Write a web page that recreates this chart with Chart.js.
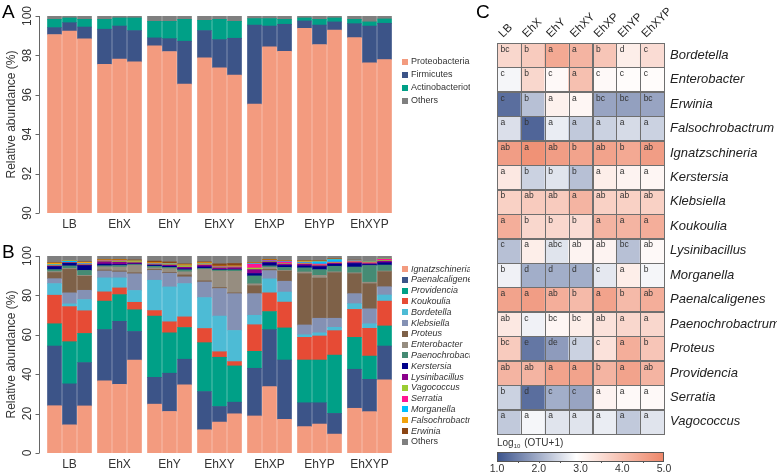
<!DOCTYPE html>
<html>
<head>
<meta charset="utf-8">
<script src="https://cdn.jsdelivr.net/npm/chart.js@4.4.1/dist/chart.umd.min.js"></script>
<style>
  body { margin: 0; background: #fff; width: 777px; height: 474px; position: relative; overflow: hidden; }
  canvas { position: absolute; }
  #phylumChart { left: 0; top: 0; }
  #genusChart { left: 0; top: 240px; }
  #heatChart { left: 470px; top: 0; }
</style>
</head>
<body>
<canvas id="phylumChart" width="470" height="240"></canvas>
<canvas id="genusChart" width="470" height="234"></canvas>
<canvas id="heatChart" width="307" height="474"></canvas>
<script>
const FONT = "'Liberation Sans', Arial, sans-serif";

// Treatment groups, three replicates each
const groups = ['LB', 'EhX', 'EhY', 'EhXY', 'EhXP', 'EhYP', 'EhXYP'];
const reps = 3;

// Panel A - phylum level relative abundance (%)
const phyla = ['Proteobacteria', 'Firmicutes', 'Actinobacteriota', 'Others'];
const proteobacteria = [99.06, 99.24, 98.84, 97.55, 97.81, 97.67, 98.48, 98.20, 96.54, 97.88, 97.37, 97.00, 95.53, 98.43, 98.21, 99.38, 98.55, 99.29, 98.90, 97.62, 97.79];
const firmicutes = [0.35, 0.42, 0.60, 1.78, 1.68, 1.59, 0.41, 0.65, 2.18, 1.38, 1.43, 1.87, 4.01, 1.06, 1.37, 0.37, 0.99, 0.41, 0.71, 1.87, 1.84];
const actinobacteriota = [0.42, 0.24, 0.39, 0.50, 0.41, 0.64, 0.84, 0.88, 1.11, 0.52, 1.03, 0.86, 0.33, 0.38, 0.25, 0.15, 0.29, 0.20, 0.22, 0.21, 0.22];
const phylumOthers = [0.17, 0.10, 0.17, 0.17, 0.10, 0.10, 0.27, 0.27, 0.17, 0.22, 0.17, 0.27, 0.13, 0.13, 0.17, 0.10, 0.17, 0.10, 0.17, 0.30, 0.15];
const phylumColors = ['#F39B7F', '#3C5488', '#00A087', '#7F7F7F'];
const phylumTicks = [90, 92, 94, 96, 98, 100];

// Panel B - genus level relative abundance (%)
const genera = ['Ignatzschineria', 'Paenalcaligenes', 'Providencia', 'Koukoulia', 'Bordetella', 'Klebsiella', 'Proteus', 'Enterobacter',
  'Paenochrobactrum', 'Kerstersia', 'Lysinibacillus', 'Vagococcus', 'Serratia', 'Morganella', 'Falsochrobactrum', 'Erwinia', 'Others'];
const ignatzschineria = [24.0, 14.3, 23.9, 36.6, 34.9, 47.2, 24.8, 21.1, 34.6, 11.8, 15.7, 19.9, 18.8, 33.7, 17.1, 13.4, 14.7, 9.6, 22.7, 21.0, 37.1];
const paenalcaligenes = [30.3, 20.8, 22.0, 26.1, 32.0, 14.5, 13.6, 19.4, 13.0, 19.4, 7.9, 5.9, 24.2, 28.9, 30.1, 12.1, 10.8, 10.5, 19.8, 16.4, 17.2];
const providencia = [11.3, 21.4, 14.8, 14.4, 13.5, 11.0, 31.1, 20.5, 16.1, 24.8, 25.0, 18.4, 8.6, 9.2, 16.3, 21.7, 21.7, 29.6, 16.2, 11.8, 10.2];
const koukoulia = [14.5, 17.8, 11.5, 4.7, 3.4, 3.8, 2.8, 5.6, 5.4, 7.2, 2.8, 2.2, 13.5, 9.5, 13.1, 11.5, 12.2, 12.4, 14.2, 14.1, 12.6];
const bordetella = [5.9, 1.4, 5.7, 7.1, 5.1, 6.0, 15.4, 17.7, 16.9, 15.7, 18.1, 15.8, 4.8, 7.1, 5.1, 1.3, 1.6, 1.7, 2.9, 2.3, 3.1];
const klebsiella = [2.5, 5.6, 4.7, 3.5, 3.0, 8.5, 5.0, 7.0, 3.4, 7.9, 14.0, 18.7, 11.0, 4.2, 5.5, 5.0, 7.4, 4.6, 5.1, 7.6, 4.2];
const proteus = [3.1, 12.0, 7.1, 0.5, 0.5, 0.5, 0.5, 0.4, 1.0, 0.6, 0.5, 0.4, 4.0, 0.6, 5.1, 26.0, 20.4, 23.1, 10.1, 12.7, 7.6];
const enterobacter = [0.5, 0.4, 0.5, 1.6, 2.0, 3.8, 0.8, 1.9, 1.6, 5.8, 8.3, 10.9, 1.0, 1.0, 0.4, 0.9, 1.4, 0.5, 0.5, 0.8, 0.4];
const paenochrobactrum = [1.0, 1.3, 2.5, 0.6, 0.8, 0.4, 0.8, 0.6, 1.0, 0.5, 0.6, 0.8, 4.0, 0.8, 1.5, 2.1, 2.9, 2.8, 2.9, 8.5, 3.0];
const kerstersia = [1.5, 1.3, 2.4, 0.8, 0.5, 0.3, 0.5, 0.6, 0.5, 0.8, 0.3, 0.3, 1.2, 1.5, 1.0, 1.0, 1.5, 1.0, 1.8, 0.5, 1.2];
const lysinibacillus = [0.3, 0.3, 0.4, 1.2, 1.2, 0.6, 0.3, 0.6, 0.8, 0.8, 0.8, 0.8, 2.0, 0.5, 0.7, 0.8, 0.5, 0.5, 0.5, 0.5, 0.8];
const vagococcus = [0.2, 0.1, 0.2, 0.4, 0.6, 0.6, 0.3, 0.3, 0.8, 0.3, 0.4, 0.4, 0.8, 0.3, 0.3, 0.3, 0.3, 0.3, 0.3, 0.3, 0.4];
const serratia = [0.1, 0.1, 0.2, 0.2, 0.2, 0.1, 0.1, 0.1, 0.1, 0.2, 0.2, 0.2, 2.0, 0.3, 0.8, 0.3, 0.5, 0.3, 0.4, 0.3, 0.5];
const morganella = [0.4, 0.6, 0.3, 0.1, 0.1, 0.1, 0.2, 0.2, 0.1, 0.2, 0.1, 0.1, 0.3, 0.2, 0.3, 0.5, 1.2, 1.3, 0.2, 0.2, 0.2];
const falsochrobactrum = [0.8, 0.3, 0.6, 0.2, 0.2, 0.2, 0.4, 0.3, 0.3, 0.6, 0.2, 0.2, 0.3, 0.2, 0.2, 0.5, 0.3, 0.2, 0.2, 0.2, 0.2];
const erwinia = [0.2, 0.1, 0.2, 0.2, 0.3, 0.4, 0.8, 0.7, 0.4, 0.4, 1.1, 1.2, 0.2, 0.3, 0.1, 0.2, 0.2, 0.2, 0.1, 0.1, 0.1];
const genusOthers = [3.4, 2.2, 3.0, 2.2, 1.7, 2.0, 2.6, 3.0, 4.0, 3.0, 4.0, 3.8, 3.3, 1.7, 2.4, 2.4, 2.4, 1.4, 2.1, 2.7, 1.4];
const genusColors = ['#F39B7F', '#3C5488', '#00A087', '#E64B35', '#4DBBD5', '#8491B4', '#7E6148', '#968D80',
  '#458B74', '#00008B', '#8B008B', '#9ACD32', '#FF1493', '#00BFFF', '#F2A20C', '#8B4513', '#7F7F7F'];
const genusTicks = [0, 20, 40, 60, 80, 100];

// Panel C - Log10(OTU+1) heatmap with significance letters
const heatRows = ['Bordetella', 'Enterobacter', 'Erwinia', 'Falsochrobactrum', 'Ignatzschineria', 'Kerstersia', 'Klebsiella', 'Koukoulia',
  'Lysinibacillus', 'Morganella', 'Paenalcaligenes', 'Paenochrobactrum', 'Proteus', 'Providencia', 'Serratia', 'Vagococcus'];
const heatValues = [
  [3.6, 3.8, 4.4, 4.2, 3.9, 3.2, 3.5],
  [2.8, 3.6, 3.0, 4.0, 3.0, 2.95, 2.95],
  [1.3, 2.2, 3.15, 3.05, 1.9, 1.85, 1.9],
  [2.55, 1.2, 2.7, 2.3, 2.4, 2.5, 2.4],
  [4.6, 4.8, 4.6, 4.5, 4.5, 4.4, 4.6],
  [3.3, 2.4, 2.6, 2.2, 3.2, 3.1, 3.05],
  [3.7, 3.8, 3.8, 4.2, 3.7, 3.7, 3.7],
  [4.3, 3.6, 3.6, 3.5, 4.2, 4.2, 4.3],
  [2.2, 3.2, 2.6, 3.1, 3.1, 2.2, 3.0],
  [2.75, 2.0, 2.0, 2.0, 2.65, 3.2, 2.8],
  [4.5, 4.6, 4.3, 4.1, 4.5, 4.1, 4.3],
  [3.3, 2.75, 3.05, 3.2, 3.4, 3.6, 3.6],
  [3.8, 1.4, 1.8, 2.4, 3.4, 4.3, 3.9],
  [4.2, 4.2, 4.5, 4.5, 4.2, 4.5, 4.2],
  [2.4, 1.3, 2.0, 1.9, 3.1, 3.0, 3.0],
  [2.3, 2.8, 2.6, 2.6, 2.7, 2.3, 2.6]
];
const heatLetters = [
  ['bc', 'b', 'a', 'a', 'b', 'd', 'c'],
  ['c', 'b', 'c', 'a', 'c', 'c', 'c'],
  ['c', 'b', 'a', 'a', 'bc', 'bc', 'bc'],
  ['a', 'b', 'a', 'a', 'a', 'a', 'a'],
  ['ab', 'a', 'ab', 'b', 'ab', 'b', 'ab'],
  ['a', 'b', 'b', 'b', 'a', 'a', 'a'],
  ['b', 'ab', 'ab', 'a', 'ab', 'ab', 'ab'],
  ['a', 'b', 'b', 'b', 'a', 'a', 'a'],
  ['c', 'a', 'abc', 'ab', 'ab', 'bc', 'ab'],
  ['b', 'd', 'd', 'd', 'c', 'a', 'b'],
  ['a', 'a', 'ab', 'b', 'a', 'b', 'ab'],
  ['ab', 'c', 'bc', 'bc', 'ab', 'a', 'a'],
  ['bc', 'e', 'de', 'd', 'c', 'a', 'b'],
  ['ab', 'ab', 'a', 'a', 'b', 'a', 'ab'],
  ['b', 'd', 'c', 'c', 'a', 'a', 'a'],
  ['a', 'a', 'a', 'a', 'a', 'a', 'a']
];
const colorbarTicks = [1, 2, 3, 4, 5];

// colour scale: blue -> white -> salmon
const lowRgb = [59, 83, 140], midRgb = [255, 255, 255], highRgb = [238, 134, 104];
const midValue = 2.9;
function heatColor(v) {
  v = Math.max(1, Math.min(5, v));
  const lowSide = v < midValue;
  const t = lowSide ? (v - 1) / (midValue - 1) : (v - midValue) / (5 - midValue);
  const a = lowSide ? lowRgb : midRgb, b = lowSide ? midRgb : highRgb;
  const c = a.map((x, i) => Math.round(x + (b[i] - x) * t));
  return 'rgb(' + c.join(',') + ')';
}

// bar position in slot units: 3 bars per group, then a gap of one third of a bar
function sampleX(i) {
  const g = Math.floor(i / reps), j = i % reps;
  return g * 10 + j * 3 + 1.5;
}

// R-style axes, group labels and legend for the stacked bar panels
const barDecor = {
  id: 'barDecor',
  afterDraw(chart, args, o) {
    const { ctx, chartArea: a, scales: { x, y } } = chart;
    ctx.save();
    ctx.strokeStyle = '#666';
    ctx.lineWidth = 1;
    const ax = a.left - 7.5;
    ctx.beginPath();
    ctx.moveTo(ax, y.getPixelForValue(o.ticks[0]));
    ctx.lineTo(ax, y.getPixelForValue(o.ticks[o.ticks.length - 1]));
    o.ticks.forEach(t => {
      const py = Math.round(y.getPixelForValue(t)) + 0.5;
      ctx.moveTo(ax, py);
      ctx.lineTo(ax - 4, py);
    });
    ctx.stroke();

    ctx.fillStyle = '#333';
    ctx.font = '12px ' + FONT;
    ctx.textAlign = 'center';
    ctx.textBaseline = 'middle';
    o.ticks.forEach(t => {
      ctx.save();
      ctx.translate(28, y.getPixelForValue(t));
      ctx.rotate(-Math.PI / 2);
      ctx.fillText(String(t), 0, 0);
      ctx.restore();
    });
    ctx.save();
    ctx.translate(12, (a.top + a.bottom) / 2);
    ctx.rotate(-Math.PI / 2);
    ctx.fillText('Relative abundance (%)', 0, 0);
    ctx.restore();

    ctx.textBaseline = 'alphabetic';
    groups.forEach((g, k) => {
      ctx.fillText(g, x.getPixelForValue(k * 10 + 4.5), a.bottom + 15);
    });

    // panel letter
    ctx.textAlign = 'left';
    ctx.fillStyle = '#000';
    ctx.font = '19px ' + FONT;
    ctx.fillText(o.letter, 2, 18);

    // legend
    ctx.textBaseline = 'middle';
    chart.data.datasets.forEach((ds, k) => {
      const ly = o.legendTop + k * o.legendStep;
      ctx.fillStyle = ds.backgroundColor;
      ctx.fillRect(402, Math.round(ly - 3), 6, 6);
      ctx.fillStyle = '#333';
      const italic = o.italic && ds.label !== 'Others';
      ctx.font = (italic ? 'italic ' : '') + o.legendFont + 'px ' + FONT;
      ctx.fillText(ds.label, 411, ly);
    });
    ctx.restore();
  }
};

function stackedPanel(id, names, series, colors, ticks, decor, height) {
  return new Chart(document.getElementById(id), {
    type: 'bar',
    data: {
      datasets: names.map((name, k) => ({
        label: name,
        data: series[k].map((v, i) => ({ x: sampleX(i), y: v })),
        backgroundColor: colors[k],
        borderWidth: 0,
        barThickness: 14
      }))
    },
    options: {
      responsive: false,
      animation: false,
      layout: { padding: { left: 47, right: 78, top: 16, bottom: height - 213 } },
      scales: {
        x: { type: 'linear', display: false, min: 0, max: groups.length * 10 - 1, offset: false, stacked: true },
        y: { display: false, min: ticks[0], max: ticks[ticks.length - 1], stacked: true }
      },
      plugins: {
        legend: { display: false },
        tooltip: { enabled: false },
        barDecor: Object.assign({ ticks: ticks }, decor)
      }
    },
    plugins: [barDecor]
  });
}

// Panel A
const phylumChart = stackedPanel('phylumChart', phyla,
  [proteobacteria, firmicutes, actinobacteriota, phylumOthers], phylumColors, phylumTicks,
  { letter: 'A', italic: false, legendTop: 62, legendStep: 13, legendFont: 9 }, 240);

// Panel B
const genusChart = stackedPanel('genusChart', genera,
  [ignatzschineria, paenalcaligenes, providencia, koukoulia, bordetella, klebsiella, proteus, enterobacter,
   paenochrobactrum, kerstersia, lysinibacillus, vagococcus, serratia, morganella, falsochrobactrum, erwinia, genusOthers],
  genusColors, genusTicks,
  { letter: 'B', italic: true, legendTop: 29, legendStep: 10.8, legendFont: 9 }, 234);

// grid, letters, labels and colour bar for the heatmap
const heatDecor = {
  id: 'heatDecor',
  afterDatasetsDraw(chart) {
    const { ctx, chartArea: a } = chart;
    ctx.save();
    ctx.strokeStyle = '#6f6f6f';
    ctx.lineWidth = 1;
    chart.data.datasets.forEach((ds, r) => {
      const meta = chart.getDatasetMeta(r);
      meta.data.forEach((el, c) => {
        const top = Math.min(el.y, el.base), bottom = Math.max(el.y, el.base);
        const left = el.x - el.width / 2;
        ctx.strokeRect(Math.round(left) + 0.5, Math.round(top) + 0.5, Math.round(el.width), Math.round(bottom - top));
        ctx.fillStyle = '#333';
        ctx.font = '8.5px ' + FONT;
        ctx.textAlign = 'left';
        ctx.textBaseline = 'middle';
        ctx.fillText(heatLetters[r][c], left + 3.5, top + 6.5);
      });
      const first = meta.data[0];
      ctx.fillStyle = '#222';
      ctx.font = 'italic 13px ' + FONT;
      ctx.fillText(ds.label, a.right + 6, (first.y + first.base) / 2);
    });

    // rotated column labels
    ctx.fillStyle = '#222';
    ctx.font = '11.5px ' + FONT;
    ctx.textBaseline = 'alphabetic';
    chart.getDatasetMeta(0).data.forEach((el, c) => {
      ctx.save();
      ctx.translate(el.x - 6, a.top - 5);
      ctx.rotate(-Math.PI / 4);
      ctx.fillText(chart.data.labels[c], 0, 0);
      ctx.restore();
    });

    // colour bar
    const cbTop = 452, cbH = 9;
    const grad = ctx.createLinearGradient(a.left, 0, a.right, 0);
    grad.addColorStop(0, heatColor(1));
    grad.addColorStop((midValue - 1) / 4, heatColor(midValue));
    grad.addColorStop(1, heatColor(5));
    ctx.fillStyle = grad;
    ctx.fillRect(a.left, cbTop, a.width, cbH);
    ctx.strokeStyle = '#555';
    ctx.strokeRect(Math.round(a.left) + 0.5, cbTop + 0.5, Math.round(a.width) - 1, cbH);
    const cbX = v => a.left + (v - 1) / 4 * a.width;
    ctx.beginPath();
    for (let v = 1.5; v < 5; v += 0.5) {
      const px = Math.round(cbX(v)) + 0.5;
      ctx.moveTo(px, cbTop + cbH);
      ctx.lineTo(px, cbTop + cbH + 2);
    }
    ctx.stroke();
    ctx.fillStyle = '#333';
    ctx.font = '10.5px ' + FONT;
    ctx.textAlign = 'center';
    colorbarTicks.forEach(v => ctx.fillText(v.toFixed(1), cbX(v), 472));

    ctx.textAlign = 'left';
    ctx.font = '10px ' + FONT;
    ctx.fillText('Log', a.left, 446);
    let tx = a.left + ctx.measureText('Log').width;
    ctx.font = '6px ' + FONT;
    ctx.fillText('10', tx, 448);
    tx += ctx.measureText('10').width + 1;
    ctx.font = '10px ' + FONT;
    ctx.fillText(' (OTU+1)', tx, 446);

    // panel letter
    ctx.fillStyle = '#000';
    ctx.font = '19px ' + FONT;
    ctx.fillText('C', 6, 18);
    ctx.restore();
  }
};

// Panel C
const heatChart = new Chart(document.getElementById('heatChart'), {
  type: 'bar',
  data: {
    labels: groups,
    datasets: heatRows.map((row, r) => ({
      label: row,
      data: groups.map(() => 1),
      backgroundColor: heatValues[r].map(heatColor),
      borderWidth: 0,
      barPercentage: 1,
      categoryPercentage: 1
    }))
  },
  options: {
    responsive: false,
    animation: false,
    layout: { padding: { left: 27, right: 113, top: 43, bottom: 40 } },
    scales: {
      x: { display: false, stacked: true },
      y: { display: false, stacked: true, min: 0, max: heatRows.length, reverse: true }
    },
    plugins: { legend: { display: false }, tooltip: { enabled: false } }
  },
  plugins: [heatDecor]
});
</script>
</body>
</html>
